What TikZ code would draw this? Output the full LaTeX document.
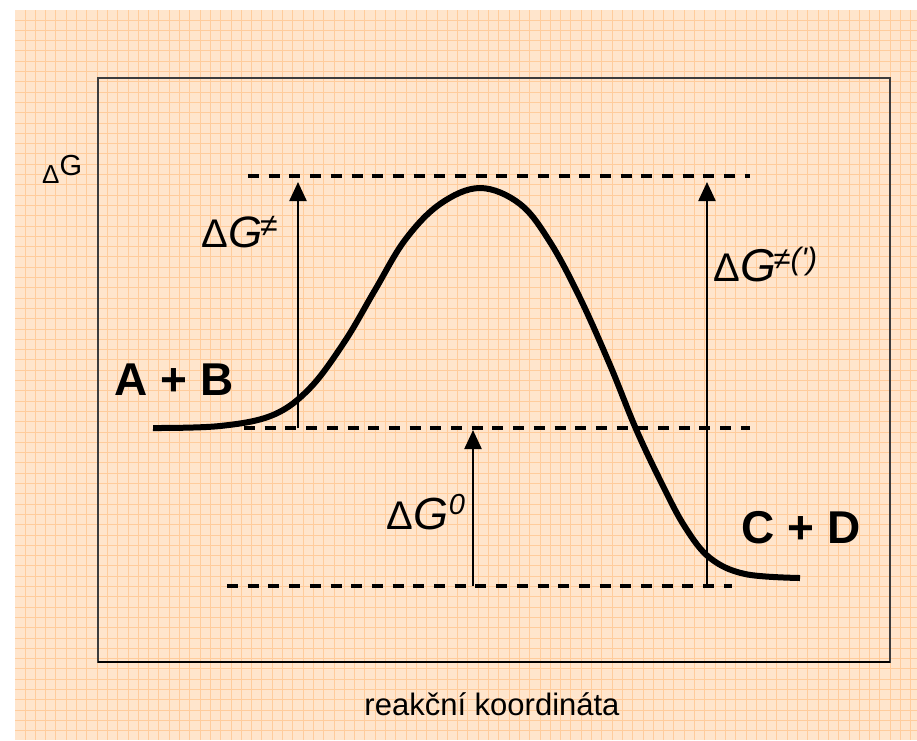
\documentclass[tikz,border=0pt]{standalone}
\usepackage{fontspec}
\setmainfont{Liberation Sans}
\usetikzlibrary{arrows.meta}
\definecolor{paper}{RGB}{255,229,204}
\definecolor{gridc}{RGB}{255,204,156}
\definecolor{framec}{RGB}{60,60,60}
\begin{document}
\begin{tikzpicture}[x=1pt,y=-1pt,
  gridline/.style={draw=gridc,line width=1pt},
  levelline/.style={draw=black,line width=3.2pt,dash pattern=on 11pt off 9.7pt},
  uparrow/.style={draw=black,line width=2.4pt,-{Triangle[length=19pt,width=17pt]}},
  energy/.style={draw=black,line width=6pt},
  lbl/.style={inner sep=0pt,anchor=base west},
  species/.style={inner sep=0pt,anchor=base,font=\fontsize{46}{46}\selectfont\bfseries}]
\useasboundingbox (0,0) rectangle (917,740);
\fill[white] (0,0) rectangle (917,740);
\fill[paper] (15,10) rectangle (917,740);
\foreach \i in {0,...,87} {
  \draw[gridline] ({25+10.3*\i},10) -- ({25+10.3*\i},740);
}
\foreach \j in {0,...,70} {
  \draw[gridline] (15,{20+10.3*\j}) -- (917,{20+10.3*\j});
}
% frame
\draw[framec,line width=1.6pt] (98,78) rectangle (890,662);
\draw[black,line width=1.6pt] (98,662) -- (890,662);
% level lines
\coordinate (t1) at (248,176);
\coordinate (t2) at (750,176);
\coordinate (m1) at (244,428);
\coordinate (m2) at (750,428);
\coordinate (b1) at (227,586);
\coordinate (b2) at (732,586);
\draw[levelline] (t1) -- (t2);
\draw[levelline] (m1) -- (m2);
\draw[levelline] (b1) -- (b2);
% arrows
\coordinate (a1s) at (298,428);
\coordinate (a1e) at (298,182);
\coordinate (a2s) at (473,586);
\coordinate (a2e) at (473,430);
\coordinate (a3s) at (707,586);
\coordinate (a3e) at (707,182);
\draw[uparrow] (a1s) -- (a1e);
\draw[uparrow] (a2s) -- (a2e);
\draw[uparrow] (a3s) -- (a3e);
% energy curve
\draw[energy] plot[smooth,tension=0.6] coordinates {
 (153,428) (220,426) (273,415) (310,388) (345,341) (375,290) (405,240)
 (440,204) (480,188) (520,204) (550,242) (580,298) (610,365) (636,429)
 (662,484) (685,527) (710,558) (745,574) (800,578)};
% labels
\node[lbl] (yaxis) at (42,183) {\fontsize{26}{26}\selectfont Δ\raisebox{8pt}{\fontsize{29}{29}\selectfont G}};
\node[lbl] (dga) at (201,247) {\fontsize{40}{40}\selectfont Δ\kern1pt{\fontsize{44}{44}\selectfont\itshape G}\kern-3pt\raisebox{11pt}{\fontsize{32}{32}\selectfont\itshape ≠}};
\node[lbl] (dgb) at (713,281) {\fontsize{40}{40}\selectfont Δ\kern1pt{\fontsize{46}{46}\selectfont\itshape G}\kern-3pt\raisebox{12pt}{\fontsize{31}{31}\selectfont\itshape ≠(\textquotesingle)}};
\node[lbl] (dg0) at (386,529) {\fontsize{40}{40}\selectfont Δ\kern1pt{\fontsize{45}{45}\selectfont\itshape G}\raisebox{15pt}{\fontsize{29}{29}\selectfont\itshape 0}};
\node[species] (ab) at (174,395) {A + B};
\node[species] (cd) at (801,543) {C + D};
\node[inner sep=0pt,anchor=base] (xaxis) at (492,715) {\fontsize{31}{31}\selectfont reakční koordináta};
\end{tikzpicture}
\end{document}
